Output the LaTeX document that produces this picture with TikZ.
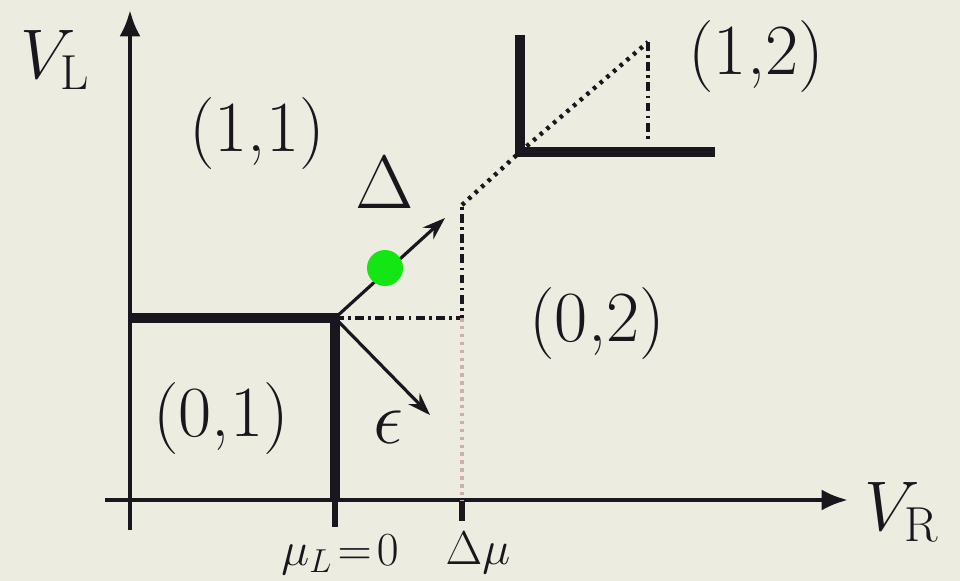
\RequirePackage{fix-cm}
\documentclass[tikz,border=0pt]{standalone}
\usepackage{amsmath}
\usetikzlibrary{arrows.meta}
\definecolor{paper}{RGB}{236,236,224}
\definecolor{ink}{RGB}{25,22,30}
\definecolor{dotgreen}{RGB}{20,230,20}
\definecolor{pinkdot}{RGB}{205,175,178}

\begin{document}
\begin{tikzpicture}[x=0.02cm, y=-0.02cm, every node/.style={font=\fontsize{41}{44}\selectfont, text=ink, inner sep=0pt},
  axis/.style={draw=ink, line width=2.4pt, -{Latex[length=15pt, width=12pt]}},
  border/.style={draw=ink, line width=5.5pt},
  guide/.style={draw=ink, line width=2.2pt, dash pattern=on 5pt off 2.5pt on 1.5pt off 2.5pt},
  diag/.style={draw=ink, line width=2.5pt, dash pattern=on 2pt off 3pt},
  vec/.style={draw=ink, line width=1.8pt, -{Stealth[length=13pt, width=9pt]}},
  big/.style={font=\fontsize{43}{46}\selectfont},
  tick/.style={font=\fontsize{27}{30}\selectfont}]
\useasboundingbox[fill=paper] (0,0) rectangle (960,581);

% points
\coordinate (o) at (130,500);
\coordinate (ybot) at (130,530);
\coordinate (ytop) at (130,10);
\coordinate (xleft) at (105,500);
\coordinate (xright) at (848,500);
\coordinate (tp) at (335,318);
\coordinate (tpl) at (130,318);
\coordinate (mu0) at (335,527);
\coordinate (dmu) at (462,521);
\coordinate (dmuax) at (462,500);
\coordinate (corner) at (462,318);
\coordinate (tip) at (462,205);
\coordinate (up) at (520,152);
\coordinate (uptop) at (520,35);
\coordinate (upright) at (715,152);
\coordinate (far) at (648,42);
\coordinate (farbot) at (648,140);

% axes
\draw[axis] (ybot) -- (ytop);
\draw[axis] (xleft) -- (xright);

% charge boundaries
\draw[border] (tpl) -- (tp) -- (335,500);
\draw[draw=ink, line width=3pt] (335,500) -- (mu0);
\draw[draw=ink, line width=3pt] (dmuax) -- (dmu);
\draw[border] (uptop) -- (up) -- (upright);

% construction lines
\draw[guide] (tp) -- (corner) -- (tip);
\draw[pinkdot, line width=2.2pt, dash pattern=on 2pt off 2.5pt] (corner) -- (dmuax);
\draw[diag] (tip) -- (up);
\draw[diag] (up) -- (far);
\draw[guide] (far) -- (farbot);

% vectors
\draw[vec] (tp) -- (445,218);
\draw[vec] (tp) -- (430,415);
\fill[dotgreen] (385,268) circle (18);

% labels
\node[font=\fontsize{40}{44}\selectfont] (vl) at (55,60) {$V_{\mathrm{L}}$};
\node[font=\fontsize{40}{44}\selectfont] (vr) at (902,512) {$V_{\mathrm{R}}$};
\node (n11) at (257,134) {(1,1)};
\node (n12) at (756,57) {(1,2)};
\node (n02) at (597,324) {(0,2)};
\node (n01) at (221,419) {(0,1)};
\node[big] (del) at (385,183) {$\Delta$};
\node[big] (eps) at (388,427) {$\epsilon$};
\node[tick] (lmu) at (340,555) {$\mu_L\!=\!0$};
\node[tick] (ldmu) at (478,553) {$\Delta\mu$};
\end{tikzpicture}
\end{document}
